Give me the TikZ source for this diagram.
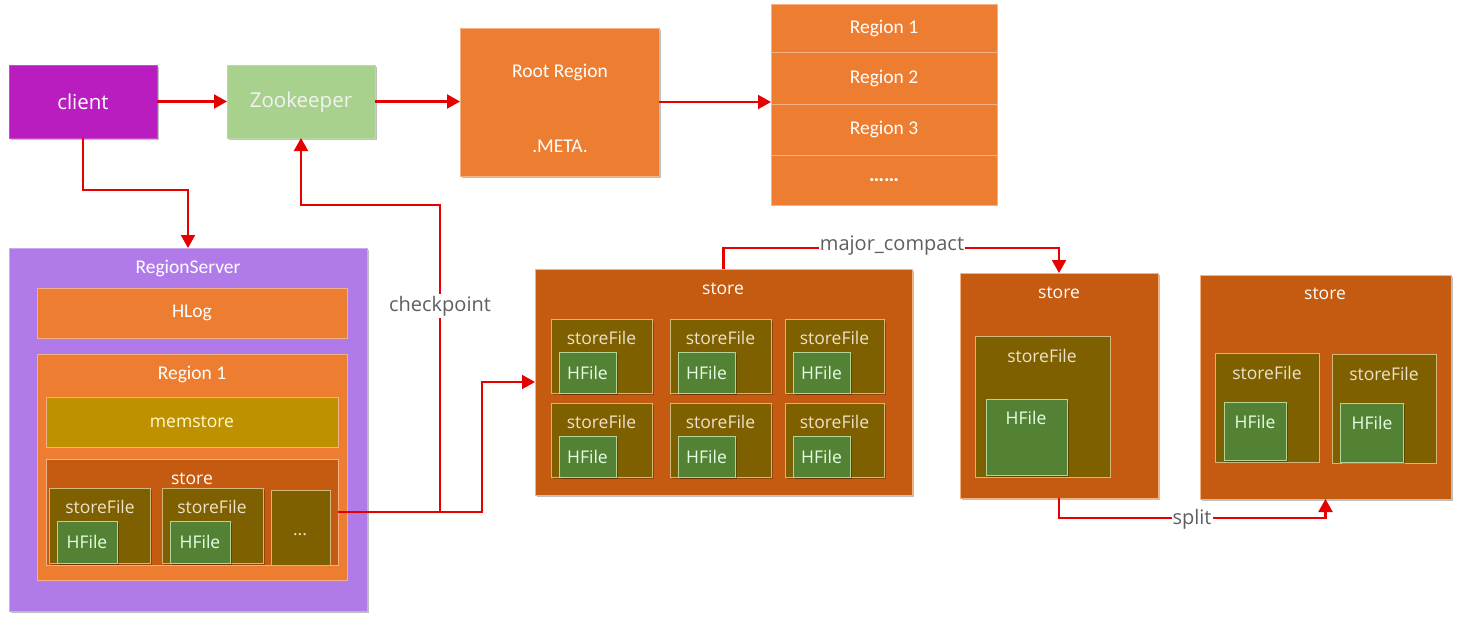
\documentclass[tikz,border=0pt]{standalone}
\usepackage{fontspec}
\setmainfont{Open Sans}
\newfontfamily\calfont{Carlito}
\usetikzlibrary{fit,shadows,arrows.meta}
\definecolor{cClient}{HTML}{B91DBF}
\definecolor{cZoo}{HTML}{A9D18E}
\definecolor{cOr}{HTML}{ED7D31}
\definecolor{cOrB}{HTML}{F4B183}
\definecolor{cStore}{HTML}{C55A11}
\definecolor{cSF}{HTML}{7F6000}
\definecolor{cSFB}{HTML}{D2B77A}
\definecolor{cHF}{HTML}{548235}
\definecolor{cHFB}{HTML}{B5D49A}
\definecolor{cMem}{HTML}{BF9000}
\definecolor{cRS}{HTML}{B07BE9}
\definecolor{cRSB}{HTML}{CDA9F2}
\definecolor{cArr}{HTML}{E60000}
\definecolor{cLab}{HTML}{5F5F5F}
\begin{document}
\begin{tikzpicture}[x=1pt,y=-1pt,
  box/.style={fit={#1}, rectangle, inner sep=0pt, outer sep=0pt, line width=0.9pt},
  sh/.style={drop shadow={opacity=0.25, shadow xshift=1.5pt, shadow yshift=-1.5pt, fill=black}},
  orbox/.style={fill=cOr, draw=cOrB},
  stbox/.style={fill=cStore, draw=cOrB},
  sfbox/.style={fill=cSF, draw=cSFB},
  hfbox/.style={fill=cHF, draw=cHFB},
  seg/.style={font=\fontsize{17.5}{20}\selectfont, inner sep=0pt},
  cal/.style={font=\calfont\fontsize{19.5}{22}\selectfont, inner sep=0pt, text=white},
  sft/.style={seg, text=cSFB!40!white},
  hft/.style={seg, text=green!10!white},
  stt/.style={seg, text=white},
  arr/.style={draw=cArr, line width=2.1pt, -{Triangle[length=13pt,width=14pt]}},
  lab/.style={font=\fontsize{20}{22}\selectfont, text=cLab, fill=white, inner sep=2pt}]
\useasboundingbox (0,0) rectangle (1462,624);
\fill[white] (0,0) rectangle (1462,624);

% top row
\node[box={(9,65) (157,138)}, fill=cClient, draw=cClient!80!white, sh] (client) {};
\node[seg, font=\fontsize{20.5}{22}\selectfont, text=white] (clientT) at (client.center) {client};
\node[box={(227,65) (375,138)}, fill=cZoo, draw=cZoo!80!white, sh] (zoo) {};
\node[seg, font=\fontsize{20.5}{22}\selectfont, text=white!95!black] (zooT) at (301,102) {Zookeeper};
\node[box={(460,28) (659,176)}, orbox, sh] (root) {};
\node[cal] (rootT) at (560,72) {Root Region};
\node[cal] (metaT) at (560,146) {.META.};
\node[box={(771,4) (997,52)}, orbox] (r1) {};
\node[box={(771,52) (997,104)}, orbox] (r2) {};
\node[box={(771,104) (997,155)}, orbox] (r3) {};
\node[box={(771,155) (997,205)}, orbox] (r4) {};
\node[box={(r1) (r4)}, draw=cOrB] (regs) {};
\node[cal] (r1T) at (r1.center) {Region 1};
\node[cal] (r2T) at (r2.center) {Region 2};
\node[cal] (r3T) at (r3.center) {Region 3};
\node[cal, font=\calfont\bfseries\fontsize{21}{22}\selectfont] (r4T) at (r4.center) {……};

% RegionServer
\node[box={(9,248) (367,611)}, fill=cRS, draw=cRSB, sh] (rs) {};
\node[cal] (rsT) at (188,268) {RegionServer};
\node[box={(37,288) (347,338)}, orbox] (hlog) {};
\node[cal] (hlogT) at (hlog.center) {HLog};
\node[box={(37,354) (347,580)}, orbox] (reg) {};
\node[cal] (regT) at (192,374) {Region 1};
\node[box={(46,397) (338,447)}, fill=cMem, draw=cOrB] (mem) {};
\node[seg, text=yellow!20!white] (memT) at (mem.center) {memstore};
\node[box={(46,459) (338,565)}, stbox] (st0) {};
\node[stt] (st0T) at (192,479) {store};
\node[box={(49,488) (150,563)}, sfbox, sh] (sf01) {};
\node[sft] (sf01T) at (100,507) {storeFile};
\node[box={(57,521) (117,563)}, hfbox, sh] (hf01) {};
\node[hft] (hf01T) at (hf01.center) {HFile};
\node[box={(162,488) (263,563)}, sfbox, sh] (sf02) {};
\node[sft] (sf02T) at (212,507) {storeFile};
\node[box={(170,521) (230,563)}, hfbox, sh] (hf02) {};
\node[hft] (hf02T) at (hf02.center) {HFile};
\node[box={(271,490) (330,565)}, sfbox] (sf03) {};
\node[sft] (sf03T) at (300,535) {...};

% middle store
\node[box={(535,269) (912,495)}, stbox, sh] (mst) {};
\node[stt] (mstT) at (723,289) {store};
\foreach \cx/\ca/\cb [count=\i] in {601.5/551/652, 720.5/670/771, 834.5/785/884}{
  \foreach \ry/\rt/\rb [count=\j] in {338/319/393, 422/403/477}{
    \node[box={(\ca,\rt) (\cb,\rb)}, sfbox, sh] (msf\i\j) {};
    \node[sft] (msf\i\j T) at (\cx,\ry) {storeFile};
    \node[box={(\ca+8,\rb-41) (\ca+65,\rb)}, hfbox, sh] (mhf\i\j) {};
    \node[hft] (mhf\i\j T) at (mhf\i\j.center) {HFile};
  }
}

% store after major compact
\node[box={(960,273) (1158,498)}, stbox, sh] (st2) {};
\node[stt] (st2T) at (1059,293) {store};
\node[box={(975,336) (1110,477)}, sfbox] (sf2) {};
\node[sft] (sf2T) at (1042,356) {storeFile};
\node[box={(986,399) (1067,475)}, hfbox, sh] (hf2) {};
\node[hft] (hf2T) at (1026,418) {HFile};

% store after split
\node[box={(1200,275) (1451,499)}, stbox, sh] (st3) {};
\node[stt] (st3T) at (1325,294) {store};
\node[box={(1215,353) (1319,462)}, sfbox] (sf3a) {};
\node[sft] (sf3aT) at (1267,373) {storeFile};
\node[box={(1224,402) (1286,460)}, hfbox, sh] (hf3a) {};
\node[hft] (hf3aT) at (1255,422) {HFile};
\node[box={(1332,354) (1436,463)}, sfbox] (sf3b) {};
\node[sft] (sf3bT) at (1384,374) {storeFile};
\node[box={(1340,403) (1403,462)}, hfbox, sh] (hf3b) {};
\node[hft] (hf3bT) at (1372,423) {HFile};

% connectors
\draw[arr] (client.east) -- (zoo.west);
\draw[arr] (zoo.east) -- (zoo.east -| root.west);
\draw[arr] (root.east) -- (root.east -| regs.west);
\coordinate (c1) at (83,190);
\draw[arr] (client.south) -- (c1) -| (rs.north);
\coordinate (j) at (440,512);
\coordinate (cp) at (440,205);
\coordinate (k) at (482,512);
\draw[arr] (st0.east) -- (j) -- (cp) -| (zoo.south);
\draw[arr] (j) -- (k) |- (mst.west);
\node[lab] (cpT) at (440,306) {checkpoint};
\coordinate (m1) at (723.5,248);
\draw[arr] (mst.north) -- (m1) -| (st2.north);
\node[lab, inner sep=1pt] (mcT) at (892,246) {major\_compact};
\coordinate (s1) at (1059,518);
\draw[arr] (st2.south) -- (s1) -| (st3.south);
\node[lab, inner sep=1pt] (spT) at (1192,519) {split};
\end{tikzpicture}
\end{document}
